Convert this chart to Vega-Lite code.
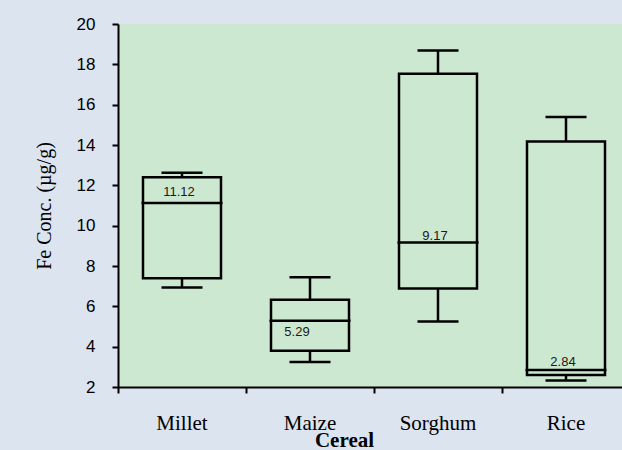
{
  "$schema": "https://vega.github.io/schema/vega-lite/v6.json",
  "autosize": "none",
  "width": 504,
  "height": 363,
  "padding": {"left": 118, "top": 24, "right": 0, "bottom": 63},
  "background": "#dce4f0",
  "config": {"view": {"fill": "#cde8d0", "stroke": null}},
  "data": {
    "values": [
      {"cereal": "Millet", "lower": 6.93, "q1": 7.39, "median": 11.12, "q3": 12.4, "upper": 12.63},
      {"cereal": "Maize", "lower": 3.24, "q1": 3.8, "median": 5.29, "q3": 6.33, "upper": 7.44},
      {"cereal": "Sorghum", "lower": 5.25, "q1": 6.88, "median": 9.17, "q3": 17.53, "upper": 18.69},
      {"cereal": "Rice", "lower": 2.32, "q1": 2.6, "median": 2.84, "q3": 14.17, "upper": 15.39}
    ]
  },
  "encoding": {
    "x": {
      "field": "cereal",
      "type": "nominal",
      "sort": ["Millet", "Maize", "Sorghum", "Rice"],
      "scale": {"type": "band", "range": [0, 512], "paddingInner": 0, "paddingOuter": 0},
      "axis": {
        "title": "Cereal",
        "titleFont": "Liberation Serif",
        "titleFontSize": 21,
        "titleFontWeight": "bold",
        "titleColor": "black",
        "titleX": 226,
        "titleY": 59,
        "titleAlign": "center",
        "titleBaseline": "alphabetic",
        "bandPosition": 0,
        "labelAngle": 0,
        "labelFont": "Liberation Serif",
        "labelFontSize": 21,
        "labelColor": "black",
        "labelPadding": 19,
        "domainColor": "black",
        "domainWidth": 2,
        "tickColor": "black",
        "tickWidth": 2,
        "tickSize": 6,
        "grid": false
      }
    }
  },
  "layer": [
    {
      "mark": {"type": "rule", "color": "black", "strokeWidth": 2.5},
      "encoding": {
        "y": {
          "field": "lower",
          "type": "quantitative",
          "scale": {"domain": [2, 20], "nice": false, "zero": false},
          "axis": {
            "values": [2, 4, 6, 8, 10, 12, 14, 16, 18, 20],
            "grid": false,
            "title": "Fe Conc. (µg/g)",
            "titleFont": "Liberation Serif",
            "titleFontSize": 20,
            "titleFontWeight": "normal",
            "titleColor": "black",
            "titleX": -74,
            "titleY": 181.5,
            "titleAngle": -90,
            "titleAlign": "center",
            "titleBaseline": "middle",
            "labelFont": "Liberation Sans",
            "labelFontSize": 17,
            "labelColor": "black",
            "labelPadding": 17,
            "labelFlush": false,
            "labelOverlap": false,
            "domainColor": "black",
            "domainWidth": 2,
            "tickColor": "black",
            "tickWidth": 2,
            "tickSize": 6
          }
        },
        "y2": {"field": "q1"}
      }
    },
    {
      "mark": {"type": "rule", "color": "black", "strokeWidth": 2.5},
      "encoding": {
        "y": {"field": "q3", "type": "quantitative"},
        "y2": {"field": "upper"}
      }
    },
    {
      "mark": {"type": "bar", "fill": "transparent", "stroke": "black", "strokeWidth": 2.5, "width": 78},
      "encoding": {
        "y": {"field": "q1", "type": "quantitative"},
        "y2": {"field": "q3"}
      }
    },
    {
      "mark": {"type": "tick", "color": "black", "size": 81, "thickness": 2.5, "opacity": 1},
      "encoding": {
        "y": {"field": "median", "type": "quantitative"}
      }
    },
    {
      "mark": {"type": "tick", "color": "black", "size": 41, "thickness": 2.5, "opacity": 1},
      "encoding": {
        "y": {"field": "lower", "type": "quantitative"}
      }
    },
    {
      "mark": {"type": "tick", "color": "black", "size": 41, "thickness": 2.5, "opacity": 1},
      "encoding": {
        "y": {"field": "upper", "type": "quantitative"}
      }
    },
    {
      "mark": {
        "type": "text",
        "font": "Liberation Sans",
        "fontSize": 13,
        "color": "#1a1a1a",
        "baseline": "middle",
        "align": "center",
        "dx": {"expr": "datum.cereal == 'Maize' ? -13 : -3"},
        "dy": {"expr": "datum.cereal == 'Maize' ? 11 : datum.cereal == 'Sorghum' ? -6 : datum.cereal == 'Rice' ? -8 : -11"}
      },
      "encoding": {
        "y": {"field": "median", "type": "quantitative"},
        "text": {"field": "median", "type": "quantitative", "format": ".2f"}
      }
    }
  ]
}
